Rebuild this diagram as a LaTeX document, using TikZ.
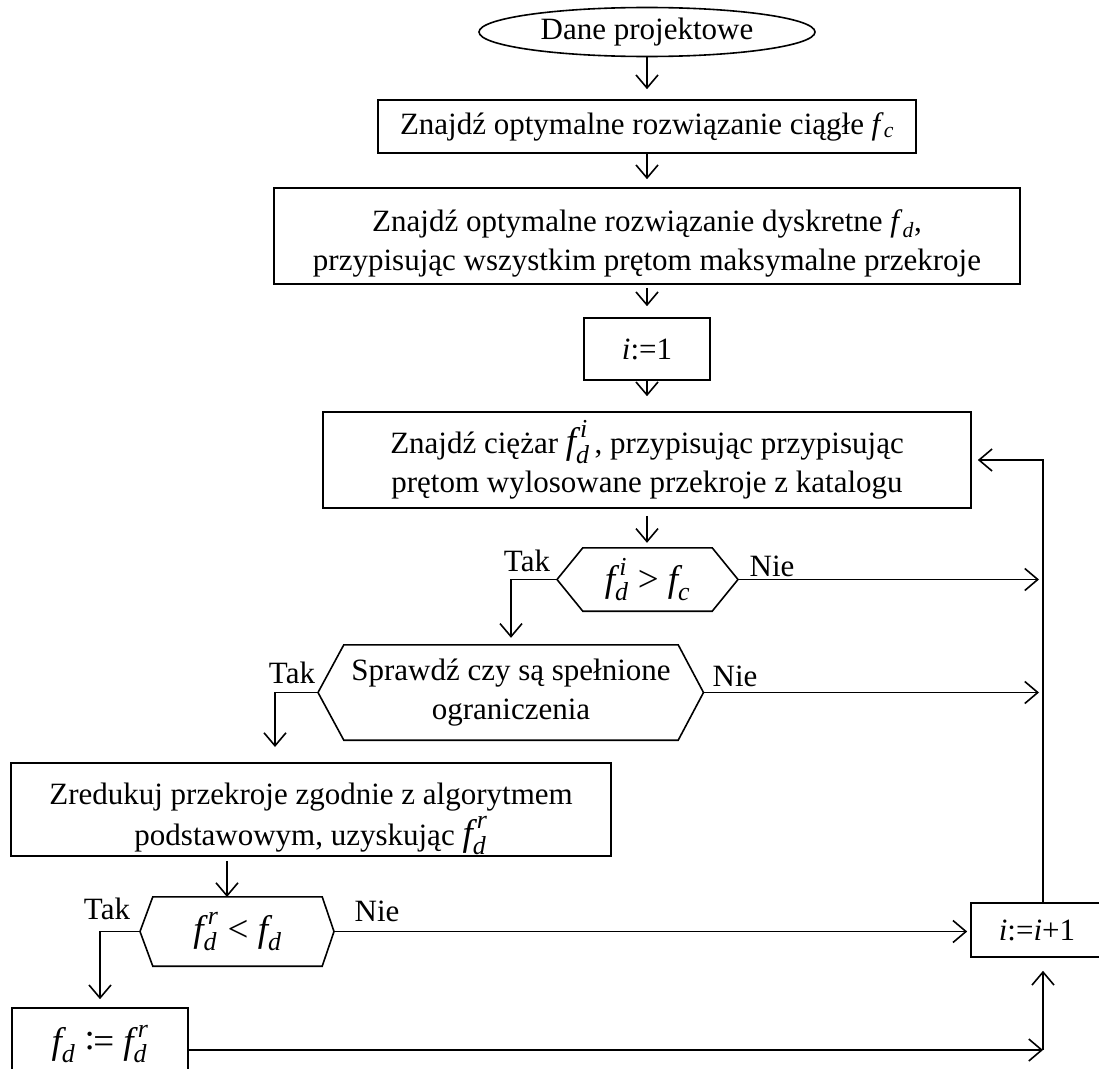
\documentclass[tikz,border=0pt]{standalone}
\usepackage{amsmath}
\usepackage{fontspec}
\setmainfont{Liberation Serif}
\usetikzlibrary{arrows.meta,shapes.geometric}
\newcommand{\mfd}[1]{\textit{f}^{\,\textit{#1}}_{\textit{d}}}
\newcommand{\bigmath}[1]{{\fontsize{37}{37}\selectfont$#1$}}
\begin{document}
\begin{tikzpicture}[x=1pt,y=-1pt,
  every node/.style={font=\fontsize{31}{39}\selectfont, inner sep=0pt, align=center},
  box/.style={draw, line width=1.6pt, rectangle},
  hexin/.style={rectangle, draw=none},
  ln/.style={line width=1.6pt},
  arr/.style={-{Straight Barb[length=13pt,width=22pt,line width=1.6pt]}, line width=1.6pt}]
\useasboundingbox (0,0) rectangle (1099,1068);
\clip (0,0) rectangle (1099,1068);

% nodes
\node[draw, ellipse, line width=1.6pt, minimum width=336pt, minimum height=49pt] (E) at (647,32) {Dane projektowe};
\node[box, minimum width=538pt, minimum height=53pt] (B1) at (647,126.5) {Znajdź optymalne rozwiązanie ciągłe \textit{f}\textsubscript{\textit{c}}};
\node[box, minimum width=746pt, minimum height=96pt] (B2) at (647,236) {\rule{0pt}{36pt}Znajdź optymalne rozwiązanie dyskretne \textit{f}\textsubscript{\textit{d}},\\ przypisując wszystkim prętom maksymalne przekroje};
\node[box, minimum width=126pt, minimum height=62pt] (I1) at (647,349) {\textit{i}:=1};
\node[box, minimum width=648pt, minimum height=96pt] (B4) at (647,460) {Znajdź ciężar \bigmath{\mfd{i}}\,, przypisując przypisując\\ prętom wylosowane przekroje z katalogu};

\node[hexin, minimum width=129pt, minimum height=63pt] (H1) at (647.5,579.5) {\bigmath{\mfd{i}\text{ > }\textit{f}_{\textit{c}}}};
\coordinate (H1w) at (557,579.5);
\coordinate (H1e) at (738,579.5);
\draw[ln] (H1.north west) -- (H1w) -- (H1.south west) -- (H1.south east) -- (H1e) -- (H1.north east) -- cycle;

\node[hexin, minimum width=334pt, minimum height=95pt] (H2) at (511,692.5) {Sprawdź czy są spełnione\\ ograniczenia};
\coordinate (H2w) at (318,692.5);
\coordinate (H2e) at (703.5,692.5);
\draw[ln] (H2.north west) -- (H2w) -- (H2.south west) -- (H2.south east) -- (H2e) -- (H2.north east) -- cycle;

\node[box, minimum width=600pt, minimum height=93pt] (B5) at (311,809.5) {\rule{0pt}{40pt}Zredukuj przekroje zgodnie z algorytmem\\[2pt] podstawowym, uzyskując \bigmath{\mfd{r}}};

\node[hexin, minimum width=169pt, minimum height=69pt] (H3) at (237.5,931.5) {\bigmath{\mfd{r}\text{ < }\textit{f}_{\textit{d}}}};
\coordinate (H3w) at (140,931.5);
\coordinate (H3e) at (334,931.5);
\draw[ln] (H3.north west) -- (H3w) -- (H3.south west) -- (H3.south east) -- (H3e) -- (H3.north east) -- cycle;

\node[box, minimum width=176pt, minimum height=72pt] (F) at (100,1044) {\bigmath{\textit{f}_{\textit{d}}\text{ \raisebox{.12em}{:}\kern-.04em= }\mfd{r}}};
\node[box, minimum width=132pt, minimum height=54pt] (I2) at (1037,930) {\textit{i}:=\textit{i}+1};

% labels
\node (tak1) at (527,561) {Tak};
\node (nie1) at (772,566) {Nie};
\node (tak2) at (292,673) {Tak};
\node (nie2) at (735,676) {Nie};
\node (tak3) at (107,909) {Tak};
\node (nie3) at (377,911) {Nie};

% helper coordinates
\coordinate (L) at (1043,0);
\coordinate (T2) at (275,747);
\coordinate (A5) at (227,897);
\coordinate (C) at (1043,1050);

% connectors
\draw[arr, shorten >=10pt] (E) -- (B1);
\draw[arr, shorten >=8pt] (B1) -- (B2);
\draw[arr, shorten >=11pt, shorten <=3pt] (B2) -- (I1);
\draw[arr, shorten >=15pt] (I1) -- (B4);
\draw[arr, shorten >=5pt, shorten <=7pt] (B4.south) -- (B4.south |- H1.north);
\draw[arr, shorten >=7pt] (H1w) -| (H2.north);
\draw[arr, shorten >=4pt] (H1e) -- (H1e -| L);
\draw[arr, shorten >=4pt] (H2e) -- (H2e -| L);
\draw[arr] (H2w) -| (T2);
\draw[arr, shorten <=4pt] (B5.south -| A5) -- (A5);
\draw[arr, shorten >=8pt] (H3w) -| (F.north);
\draw[arr, shorten >=3pt] (H3e) -- (H3e -| I2.west);
\draw[arr] (F.east |- C) -- (C);
\draw[arr, shorten >=13pt] (C) -- (C |- I2.south);
\draw[arr, shorten >=6pt] (L |- I2.north) |- (B4.east);
\end{tikzpicture}
\end{document}
